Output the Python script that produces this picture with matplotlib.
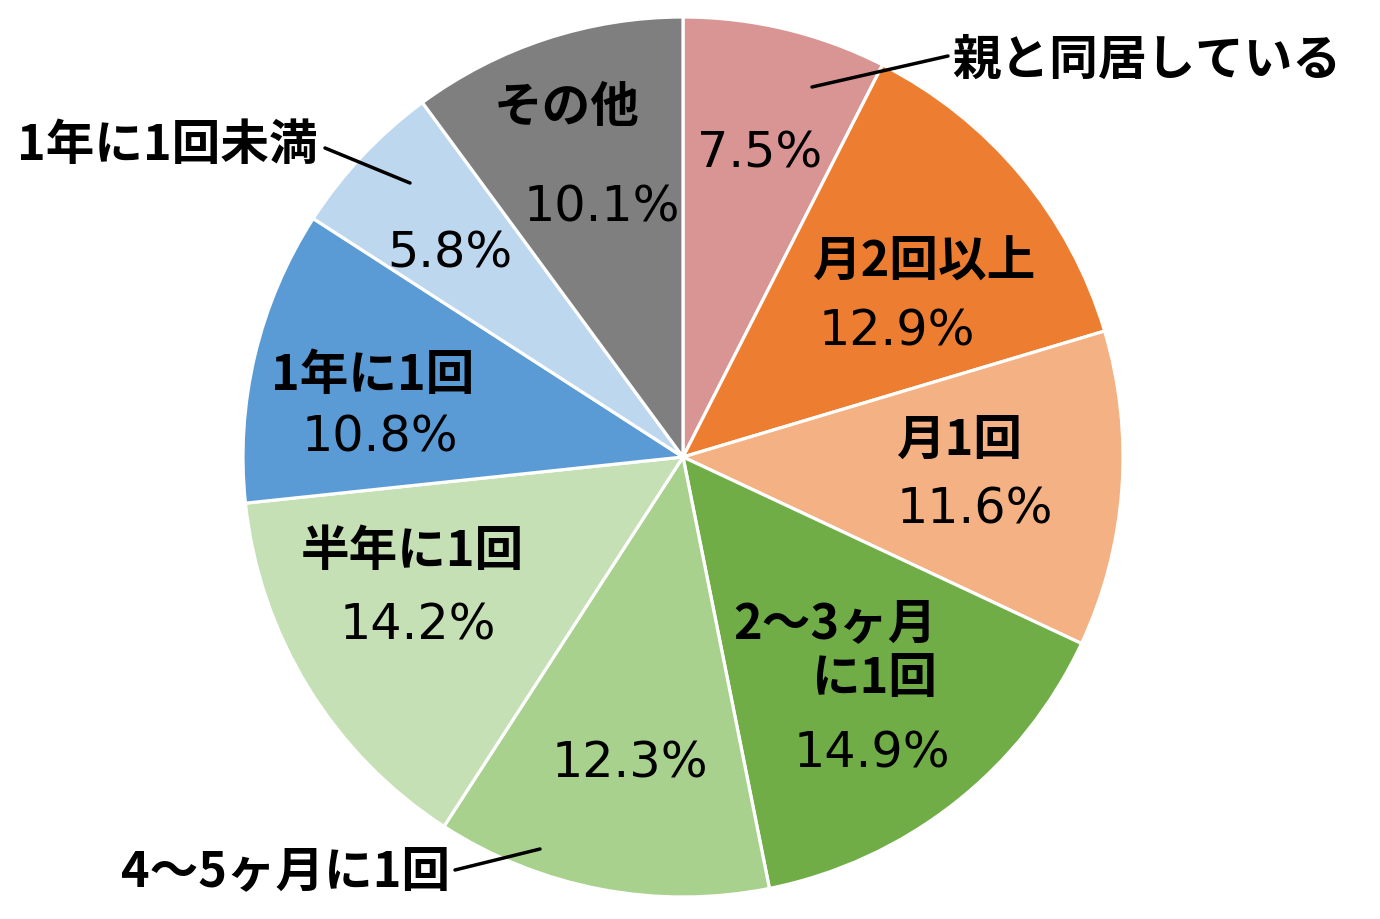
import matplotlib
matplotlib.use("Agg")
import matplotlib.pyplot as plt

categories = ["親と同居している", "月2回以上", "月1回", "2～3ヶ月\nに1回", "4～5ヶ月に1回",
              "半年に1回", "1年に1回", "1年に1回未満", "その他"]
values = [7.5, 12.9, 11.6, 14.9, 12.3, 14.2, 10.8, 5.8, 10.1]
pct_labels = ["7.5%", "12.9%", "11.6%", "14.9%", "12.3%", "14.2%", "10.8%", "5.8%", "10.1%"]
colors = ["#D99594", "#ED7D31", "#F4B183", "#70AD47", "#A9D18E",
          "#C5E0B4", "#5B9BD5", "#BDD7EE", "#7F7F7F"]

W, H = 1380, 919
fig = plt.figure(figsize=(W / 100, H / 100), dpi=100)
ax = fig.add_axes([0, 0, 1, 1])

cx, cy, R = 683, H - 457, 440
ax.pie(values, colors=colors, startangle=90, counterclock=False,
       center=(cx, cy), radius=R, frame=True,
       wedgeprops=dict(edgecolor="white", linewidth=2.3))
ax.set_xlim(0, W)
ax.set_ylim(0, H)
ax.set_aspect("equal")
ax.axis("off")

def py(y):
    return H - y

cat_font = dict(family=["Noto Sans CJK JP", "DejaVu Sans"], fontweight="bold", fontsize=35)
pct_font = dict(family=["DejaVu Sans"], fontsize=35.5)

# category label positions (pixel coords), alignment
cat_pos = [
    (952, 60, "left"),
    (925, 262, "center"),
    (960, 441, "center"),
    (937, 651, "right"),
    (450, 873, "right"),
    (412, 552, "center"),
    (373, 376, "center"),
    (318, 145, "right"),
    (567, 108, "center"),
]
pct_pos = [
    (760, 153), (897, 331), (975, 509), (872, 754), (630, 764),
    (418, 626), (380, 437), (450, 253), (602, 208),
]

for cat, (x, y, ha) in zip(categories, cat_pos):
    ax.text(x, py(y), cat, ha=ha, va="center", color="black", linespacing=1.15,
            multialignment=ha, **cat_font)

for p, (x, y) in zip(pct_labels, pct_pos):
    ax.text(x, py(y), p, ha="center", va="center", color="black", **pct_font)

# leader lines
leaders = [((812, 87), (948, 56)), ((455, 870), (540, 849)), ((325, 148), (410, 183))]
for (x0, y0), (x1, y1) in leaders:
    ax.plot([x0, x1], [py(y0), py(y1)], color="black", linewidth=2.5, solid_capstyle="round")

fig.savefig("out.png", dpi=100, facecolor="white")
